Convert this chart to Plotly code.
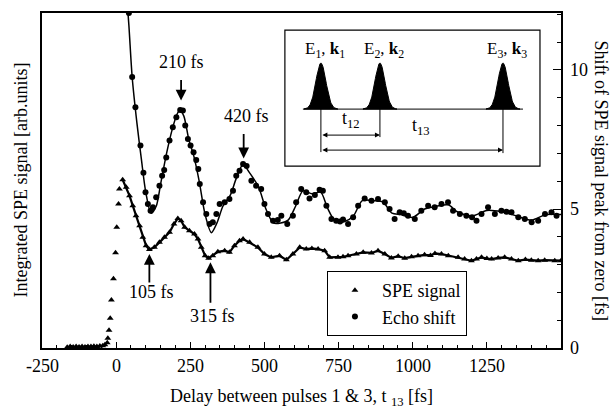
import numpy as np
import plotly.graph_objects as go

# ---------------- data ----------------
spe_t = [-165, -155, -145, -135, -125, -115, -105, -95, -85, -75, -65, -55, -45, -38, -30, -28, -24, -20, -16, -9, -2, 2, 8, 11, 22,
         34, 45, 56, 67, 79, 90, 101, 112, 129, 146, 163, 180, 195, 208, 219, 231, 247, 264, 276, 287, 300, 312, 326, 343, 366,
         382, 399, 416, 428, 450, 478, 500, 523, 551, 574, 596, 619, 641, 660, 681, 703, 720, 748, 765, 782, 810, 833, 861, 883,
         906, 928, 951, 973, 996, 1018, 1040, 1060, 1075, 1097, 1120, 1153, 1175, 1198, 1215, 1232, 1250, 1266, 1288, 1310,
         1333, 1356, 1380, 1400, 1423, 1445, 1479, 1500]
spe_v = [0.03, 0.05, 0.04, 0.05, 0.04, 0.05, 0.04, 0.05, 0.05, 0.06, 0.05, 0.07, 0.08, 0.12, 0.19, 0.35, 0.64, 1.07, 1.73, 2.49, 3.43, 4.34, 5.18, 5.72, 6.05,
         5.78, 5.48, 5.12, 4.76, 4.40, 3.98, 3.68, 3.54, 3.62, 3.80, 3.98, 4.16, 4.46, 4.66, 4.58, 4.34, 4.22, 4.10, 3.92, 3.62, 3.32, 3.23, 3.32, 3.46, 3.50,
         3.44, 3.68, 3.86, 3.92, 3.80, 3.62, 3.38, 3.26, 3.32, 3.17, 3.38, 3.62, 3.56, 3.58, 3.56, 3.50, 3.26, 3.26, 3.28, 3.32, 3.38, 3.44, 3.42, 3.50,
         3.38, 3.24, 3.30, 3.23, 3.28, 3.32, 3.35, 3.33, 3.40, 3.38, 3.32, 3.26, 3.20, 3.14, 3.20, 3.26, 3.22, 3.20, 3.24, 3.26,
         3.20, 3.14, 3.18, 3.16, 3.14, 3.16, 3.14, 3.14]

echo_t = [43, 54, 65, 82, 92, 99, 107, 116, 124, 135, 146, 155, 162, 169, 180, 191, 203, 216, 225, 233, 242, 251, 261, 270, 277,
          282, 293, 304, 315, 326, 338, 349, 366, 382, 394, 405, 416, 428, 440, 456, 472, 489, 500, 512, 529, 545, 557, 577, 596,
          607, 624, 641, 652, 670, 686, 697, 709, 726, 742, 755, 765, 782, 799, 816, 838, 861, 883, 906, 922, 939, 956, 970, 984,
          1007, 1029, 1052, 1074, 1097, 1119, 1136, 1159, 1181, 1200, 1215, 1232, 1254, 1277, 1299, 1316, 1333, 1356, 1378, 1401,
          1423, 1446, 1468, 1485]
echo_v = [12.05, 9.75, 8.66, 7.28, 6.30, 5.60, 5.18, 4.94, 5.06, 5.42, 5.84, 6.20, 6.40, 6.85, 7.46, 7.94, 8.30, 8.56, 8.54, 8.00, 7.52, 7.28, 7.04, 6.76, 6.44,
          5.90, 5.24, 4.82, 4.46, 4.52, 4.82, 5.18, 5.24, 5.36, 5.66, 6.20, 6.38, 6.62, 6.55, 6.02, 5.84, 5.72, 5.18, 4.82, 4.58, 4.60, 4.76, 4.46, 4.76,
          5.24, 5.72, 5.60, 5.38, 5.50, 5.69, 5.66, 5.12, 4.64, 4.58, 4.55, 4.62, 4.46, 4.70, 5.12, 5.38, 5.30, 5.36, 5.24, 5.00, 4.64, 4.88, 4.85, 4.76,
          4.64, 4.94, 5.12, 5.06, 5.18, 5.24, 4.94, 4.82, 4.76, 4.70, 4.58, 4.82, 5.06, 4.82, 4.94, 4.90, 4.88, 4.70, 4.64, 4.52,
          4.58, 4.82, 4.88, 4.76]

fit_t = [30, 43, 54, 70, 85, 100, 118, 135, 150, 170, 190, 205, 215, 228, 245, 262, 280, 300, 321, 340, 360, 385, 405, 428, 450,
         480, 505, 530, 555, 580, 605, 630, 660, 690, 712, 740, 770, 800, 830, 870, 900, 930, 960, 1000, 1040, 1080, 1120, 1150,
         1200, 1250, 1300, 1350, 1400, 1450, 1500]
fit_v = [13.5, 11.6, 9.75, 8.1, 6.8, 5.6, 4.85, 5.1, 5.9, 7.0, 7.9, 8.4, 8.55, 8.35, 7.5, 6.9, 6.0, 4.8, 4.15, 4.5, 5.1, 5.5, 6.1, 6.6, 6.3,
         5.8, 5.0, 4.5, 4.5, 4.6, 5.1, 5.65, 5.55, 5.6, 5.05, 4.55, 4.55, 4.75, 5.3, 5.3, 5.25, 4.85, 4.8, 4.7, 5.0, 5.1, 5.15, 4.9,
         4.75, 4.95, 4.9, 4.75, 4.6, 4.8, 4.8]

x_ticks = [-250, 0, 250, 500, 750, 1000, 1250]
x_tick_text = ["-250", "0", "250", "500", "750", "1000", "1250"]
y2_ticks = [0, 5, 10]

# peak / dip labels: (text, tip_t, tip_y, arrow_dy_px, label_t, label_y)
marks = [("210 fs", 219, 8.9, -22, 219, 10.3),
         ("420 fs", 430, 6.82, -26, 439, 8.36),
         ("105 fs", 112, 3.38, 30, 118, 2.03),
         ("315 fs", 318, 3.08, 42, 326, 1.16)]

# inset schematic (inset pixel units)
pulse_centers = [36, 95, 218]
pulse_labels = ["E<sub>1</sub>, <b>k</b><sub>1</sub>", "E<sub>2</sub>, <b>k</b><sub>2</sub>", "E<sub>3</sub>, <b>k</b><sub>3</sub>"]

FONT = "Liberation Serif, Times New Roman, serif"
BLACK = "black"


def tf(size=18):
    return dict(family=FONT, size=size, color=BLACK)


# dense parts of the SPE record look like a solid band; the sparse rising edge shows separate triangles
line_t, line_v = [], []
for t, v in zip(spe_t, spe_v):
    if -45 < t < 22:
        if line_t and line_t[-1] is not None:
            line_t.append(None)
            line_v.append(None)
        continue
    line_t.append(t)
    line_v.append(v)

fig = go.Figure()

# SPE signal
fig.add_trace(go.Scatter(x=line_t, y=line_v, mode="lines", line=dict(color=BLACK, width=2.2),
                         showlegend=False, hoverinfo="skip", yaxis="y", connectgaps=False))
fig.add_trace(go.Scatter(x=spe_t, y=spe_v, mode="markers", name="SPE signal",
                         marker=dict(symbol="triangle-up", size=6, color=BLACK), yaxis="y"))
# Echo shift
fig.add_trace(go.Scatter(x=fit_t, y=fit_v, mode="lines", line=dict(color=BLACK, width=1.5, shape="spline", smoothing=0.8),
                         showlegend=False, hoverinfo="skip", yaxis="y2"))
fig.add_trace(go.Scatter(x=echo_t, y=echo_v, mode="markers", name="Echo shift",
                         marker=dict(symbol="circle", size=6, color=BLACK), yaxis="y2"))

# inset pulses
base_y, amp, sig = 57, 46, 5
for c in pulse_centers:
    xs = np.linspace(c - 17, c + 17, 80)
    ys = base_y + amp * np.exp(-((xs - c) ** 2) / (2 * sig ** 2))
    fig.add_trace(go.Scatter(x=np.r_[xs, xs[-1], xs[0]], y=np.r_[ys, base_y, base_y],
                             fill="toself", fillcolor=BLACK, mode="lines", line=dict(color=BLACK, width=1),
                             showlegend=False, hoverinfo="skip", xaxis="x3", yaxis="y3"))

annotations = []
for text, tt, ty, dy, lt, ly in marks:
    annotations.append(dict(x=tt, y=ty, xref="x", yref="y2", text="", showarrow=True, ax=0, ay=dy,
                            arrowhead=2, arrowsize=1.2, arrowwidth=1.8, arrowcolor=BLACK))
    annotations.append(dict(x=lt, y=ly, xref="x", yref="y2", text=text, showarrow=False, font=tf()))

# x tick labels
for v, s in zip(x_ticks, x_tick_text):
    annotations.append(dict(x=v, y=0, xref="x", yref="paper", yanchor="top", yshift=-6, text=s,
                            showarrow=False, font=tf()))
# right tick labels
for v in y2_ticks:
    annotations.append(dict(x=1, y=v, xref="paper", yref="y2", xanchor="left", xshift=7, text=str(v),
                            showarrow=False, font=tf()))

for c, lab in zip(pulse_centers, pulse_labels):
    annotations.append(dict(x=c + 4, y=116, xref="x3", yref="y3", text=lab, showarrow=False, font=tf(17)))
# t12 and t13 double arrows
annotations.append(dict(x=pulse_centers[1], y=31, ax=pulse_centers[0], ay=31, xref="x3", yref="y3", axref="x3", ayref="y3",
                        text="", showarrow=True, arrowside="end+start", arrowhead=2, arrowsize=1, arrowwidth=1, arrowcolor=BLACK))
annotations.append(dict(x=pulse_centers[2], y=16, ax=pulse_centers[0], ay=16, xref="x3", yref="y3", axref="x3", ayref="y3",
                        text="", showarrow=True, arrowside="end+start", arrowhead=2, arrowsize=1, arrowwidth=1, arrowcolor=BLACK))
annotations.append(dict(x=66, y=47, xref="x3", yref="y3", text="t<sub>12</sub>", showarrow=False, font=tf()))
annotations.append(dict(x=136, y=40, xref="x3", yref="y3", text="t<sub>13</sub>", showarrow=False, font=tf()))

# axis titles
annotations.append(dict(x=0.5, y=0, xref="paper", yref="paper", yanchor="middle", yshift=-49,
                        text="Delay between pulses 1 &amp; 3, t <sub>13</sub> [fs]", showarrow=False, font=tf()))
annotations.append(dict(x=0, y=0.5, xref="paper", yref="paper", xanchor="center", yanchor="middle", xshift=-22,
                        text="Integrated SPE signal [arb.units]", textangle=-90, showarrow=False, font=tf()))
annotations.append(dict(x=1, y=0.5, xref="paper", yref="paper", xanchor="center", yanchor="middle", xshift=40,
                        text="Shift of SPE signal peak from zero [fs]", textangle=90, showarrow=False, font=tf()))

shapes = [
    dict(type="rect", xref="x3 domain", yref="y3 domain", x0=0, x1=1, y0=0, y1=1, line=dict(color=BLACK, width=1.2)),
    dict(type="line", xref="x3", yref="y3", x0=18, x1=238, y0=base_y, y1=base_y, line=dict(color=BLACK, width=1)),
    dict(type="line", xref="x3", yref="y3", x0=pulse_centers[0], x1=pulse_centers[0], y0=base_y, y1=14, line=dict(color=BLACK, width=1)),
    dict(type="line", xref="x3", yref="y3", x0=pulse_centers[1], x1=pulse_centers[1], y0=base_y, y1=29, line=dict(color=BLACK, width=1)),
    dict(type="line", xref="x3", yref="y3", x0=pulse_centers[2], x1=pulse_centers[2], y0=base_y, y1=13, line=dict(color=BLACK, width=1)),
]

fig.update_layout(
    width=613, height=409,
    margin=dict(l=42, r=52, t=13, b=61, autoexpand=False),
    paper_bgcolor="white", plot_bgcolor="white",
    font=tf(),
    showlegend=True,
    legend=dict(x=0.549, y=0.23, xanchor="left", yanchor="top", bgcolor="white",
                bordercolor=BLACK, borderwidth=1, font=tf(), tracegroupgap=0, itemwidth=44),
    xaxis=dict(range=[-250, 1500], tickvals=x_ticks, showticklabels=False, ticks="inside", ticklen=6, tickwidth=1.2,
               tickcolor=BLACK, minor=dict(dtick=50, tick0=0, ticks="inside", ticklen=3, tickcolor=BLACK),
               showline=True, linecolor=BLACK, linewidth=1.8, mirror=True, showgrid=False, zeroline=False,
               automargin=False),
    yaxis=dict(range=[0, 12.05], showticklabels=False, ticks="", showline=True, linecolor=BLACK, linewidth=1.8,
               showgrid=False, zeroline=False, automargin=False),
    yaxis2=dict(range=[0, 12.05], overlaying="y", side="right", tickvals=y2_ticks, showticklabels=False,
                ticks="inside", ticklen=8, tickwidth=1.2, tickcolor=BLACK,
                minor=dict(dtick=1, tick0=0, ticks="inside", ticklen=4, tickcolor=BLACK),
                showline=True, linecolor=BLACK, linewidth=1.8, showgrid=False, zeroline=False, automargin=False),
    xaxis3=dict(domain=[0.468, 0.9595], anchor="y3", range=[0, 255], visible=False),
    yaxis3=dict(domain=[0.543, 0.949], anchor="x3", range=[0, 136], visible=False),
    annotations=annotations,
    shapes=shapes,
)

fig.write_html("out.html", config={"displayModeBar": False},
               post_script="document.body.style.margin='0px';document.body.style.overflow='hidden';")
